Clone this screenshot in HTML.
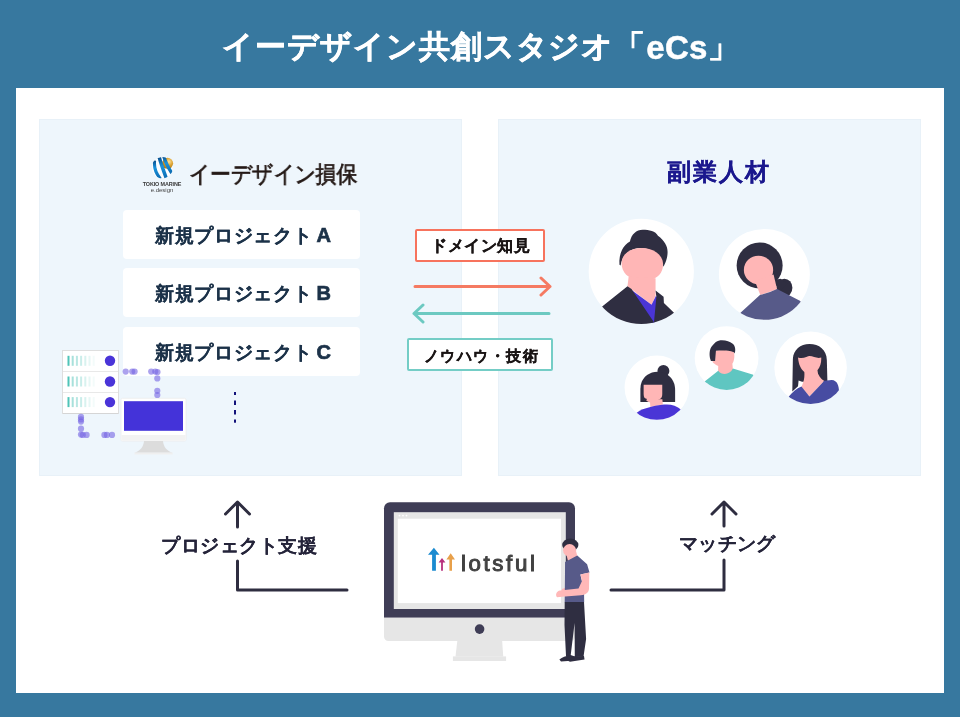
<!DOCTYPE html>
<html><head><meta charset="utf-8">
<style>
*{margin:0;padding:0;box-sizing:border-box}
html,body{width:960px;height:717px;overflow:hidden;background:#37789f;font-family:"Liberation Sans",sans-serif}
.abs{position:absolute}
.t{position:absolute;white-space:nowrap;font-weight:bold;line-height:1;will-change:transform}
#panel{position:absolute;left:16px;top:88px;width:928px;height:605px;background:#fff}
.lp{position:absolute;top:119px;width:423px;height:357px;background:#eef6fc;box-shadow:inset 0 0 0 1px #e8f1f8}
.box{position:absolute;left:123px;width:237px;height:49px;background:#fff;border-radius:4px}
.L{font-size:20px;margin-left:-1.5px;-webkit-text-stroke:0.7px #1c3249;letter-spacing:0}
.bt{font-size:18.5px;letter-spacing:0.65px;color:#1c3249;-webkit-text-stroke:0.2px #1c3249}
.lbl{position:absolute;background:#fff}
svg{position:absolute;left:0;top:0;will-change:transform}
</style></head><body>
<div class="t" id="title" style="left:221.6px;top:29px;font-size:31px;letter-spacing:0.95px;color:#fff;-webkit-text-stroke:0.5px #fff">イーデザイン共創スタジオ「<span style="font-size:33px;position:relative;top:1.5px;letter-spacing:0.2px">eCs</span>」</div>
<div id="panel"></div>
<div class="lp" style="left:39px"></div>
<div class="lp" style="left:498px;width:423px"></div>

<div class="box" style="top:209.5px"></div>
<div class="box" style="top:268px"></div>
<div class="box" style="top:327px"></div>
<div class="t bt" style="left:155px;top:224.5px">新規プロジェクト <span class="L">A</span></div>
<div class="t bt" style="left:155px;top:283px">新規プロジェクト <span class="L">B</span></div>
<div class="t bt" style="left:155px;top:342px">新規プロジェクト <span class="L">C</span></div>

<div class="t" style="left:189px;top:163px;font-size:23px;font-weight:normal;letter-spacing:-0.6px;color:#231815;-webkit-text-stroke:0.75px #231815;transform:scaleX(0.91);transform-origin:0 0">イーデザイン損保</div>

<div class="lbl" style="left:415px;top:229px;width:130px;height:33px;border:2px solid #f7735d;border-radius:2px"></div>
<div class="lbl" style="left:407px;top:338px;width:146px;height:33px;border:2px solid #74cdc6;border-radius:2px"></div>
<div class="t" style="left:430.5px;top:238px;font-size:15.5px;letter-spacing:0.6px;color:#1a1515;-webkit-text-stroke:0.35px #1a1515">ドメイン知見</div>
<div class="t" style="left:424px;top:347.5px;font-size:15px;letter-spacing:1.45px;color:#1a1515;-webkit-text-stroke:0.35px #1a1515">ノウハウ・技術</div>

<div class="t" style="left:667px;top:160px;font-size:24px;letter-spacing:2px;color:#1b188e;-webkit-text-stroke:0.15px #1b188e">副業人材</div>

<div class="t" style="left:160.5px;top:537px;font-size:18.5px;letter-spacing:0.55px;color:#25243a;-webkit-text-stroke:0.05px #25243a">プロジェクト支援</div>
<div class="t" style="left:679px;top:534.5px;font-size:18.5px;letter-spacing:0.3px;color:#25243a;-webkit-text-stroke:0.05px #25243a">マッチング</div>

<svg width="960" height="717" viewBox="0 0 960 717">

  <defs>
    <clipPath id="c1"><circle cx="351" cy="352" r="328"/></clipPath>
    <clipPath id="c2"><circle cx="354" cy="354" r="326"/></clipPath>
    <clipPath id="c3"><circle cx="352" cy="360" r="308"/></clipPath>
    <clipPath id="c4"><circle cx="350" cy="345" r="305"/></clipPath>
    <clipPath id="c5"><circle cx="355" cy="348" r="317"/></clipPath>
    <clipPath id="lc"><circle cx="162.2" cy="167.8" r="10.7"/></clipPath>
    <radialGradient id="gold" cx="0.62" cy="0.35" r="0.7"><stop offset="0" stop-color="#fde3a0"/><stop offset="0.45" stop-color="#e0a838"/><stop offset="1" stop-color="#a8720e"/></radialGradient>
    <linearGradient id="blu" x1="0" y1="0" x2="0" y2="1"><stop offset="0" stop-color="#0b4f8c"/><stop offset="0.4" stop-color="#1b93dc"/><stop offset="1" stop-color="#0c6ab0"/></linearGradient>
  </defs>
  <!-- Tokio Marine logo -->
  <g>
    <circle cx="162.2" cy="167.8" r="10.4" fill="#fff" opacity="0.85"/>
    <circle cx="167.6" cy="163.3" r="5.5" fill="url(#gold)"/>
    <g clip-path="url(#lc)" fill="none" stroke="url(#blu)" stroke-width="3.4">
      <path d="M154.6 160.5Q153.4 170.6 160.5 179" stroke-width="3.1"/>
      <path d="M159.3 157.5Q160.75 163.35 166.6 179" stroke-width="3.5"/>
      <path d="M163.9 156.3Q165.25 162.85 171.8 173.2" stroke-width="3.4"/>
    </g>
  </g>
  <text x="162" y="185.6" font-size="5.4" font-weight="bold" fill="#3a3a3a" text-anchor="middle" font-family="Liberation Sans" letter-spacing="-0.1">TOKIO MARINE</text>
  <text x="162" y="192" font-size="6" fill="#444" text-anchor="middle" font-family="Liberation Sans">e.design</text>

  <!-- server -->
  <rect x="62.5" y="350.5" width="56" height="63" fill="#fff" stroke="#dedede" stroke-width="1"/>
  <path d="M63 371.5H118M63 392.5H118" stroke="#e8e8e8" stroke-width="1"/>
  <path d="M63 413.5H118" stroke="#d5d5d5" stroke-width="1.2"/>
  <g fill="#4a34d8"><circle cx="110" cy="360.8" r="5.2"/><circle cx="110" cy="381.5" r="5.2"/><circle cx="110" cy="402.1" r="5.2"/></g>
  <g fill="#4fc4b8">
    <g id="bars">
      <rect x="67.5" y="355.8" width="2" height="10" opacity="1"/>
      <rect x="71.7" y="355.8" width="2" height="10" opacity="0.5"/>
      <rect x="75.9" y="355.8" width="2" height="10" opacity="0.4"/>
      <rect x="80.1" y="355.8" width="2" height="10" opacity="0.3"/>
      <rect x="84.3" y="355.8" width="2" height="10" opacity="0.22"/>
      <rect x="88.5" y="355.8" width="2" height="10" opacity="0.14"/>
      <rect x="92.7" y="355.8" width="2" height="10" opacity="0.07"/>
    </g>
    <use href="#bars" y="20.7"/>
    <use href="#bars" y="41.3"/>
  </g>
  <!-- small monitor -->
  <rect x="121" y="398.3" width="65" height="42.7" rx="1.5" fill="#fff" stroke="#ececec" stroke-width="0.8"/>
  <rect x="124" y="401.2" width="59" height="29.6" fill="#4433d9"/>
  <rect x="121.4" y="435" width="64.2" height="5.6" fill="#f2f2f2"/>
  <path d="M144 441H163C163.5 447 167 451 172.6 452.8H134.5C140 451 143.5 447 144 441Z" fill="#dcdcdc"/>
  <rect x="134.5" y="452.5" width="38.1" height="2" fill="#efefef"/>
  <!-- dotted connectors -->
  <g fill="#7564e2" fill-opacity="0.6"><circle cx="125.7" cy="371.6" r="3.1"/><circle cx="132.2" cy="371.6" r="3.1"/><circle cx="134.6" cy="371.6" r="3.1"/><circle cx="151.2" cy="371.6" r="3.1"/><circle cx="155.3" cy="371.6" r="3.1"/><circle cx="157.5" cy="372" r="3.1"/><circle cx="157.3" cy="378.4" r="3.1"/><circle cx="157.3" cy="390.8" r="3.1"/><circle cx="157.3" cy="395" r="3.1"/><circle cx="81" cy="416.9" r="3.1"/><circle cx="81" cy="419.4" r="3.1"/><circle cx="81" cy="421.6" r="3.1"/><circle cx="81" cy="428.7" r="3.1"/><circle cx="81" cy="434.6" r="3.1"/><circle cx="82.8" cy="434.9" r="3.1"/><circle cx="86.6" cy="434.9" r="3.1"/><circle cx="104.4" cy="434.9" r="3.1"/><circle cx="106.9" cy="434.9" r="3.1"/><circle cx="112" cy="434.9" r="3.1"/></g>
  <!-- dashed line under boxes -->
  <g fill="#13127a"><rect x="234" y="392" width="2" height="3"/><rect x="234" y="400.5" width="2" height="4.5"/><rect x="234" y="410" width="2" height="4.5"/><rect x="234" y="419.5" width="2" height="3.2"/></g>

  <!-- person 1 -->
  <g transform="translate(585 215) scale(0.16038)">
    <circle cx="351" cy="352" r="328" fill="#fff"/>
    <g clip-path="url(#c1)">
      <path d="M215,310 C210,240 240,185 280,165 C290,120 320,92 360,92 C400,92 440,100 455,130 C495,160 515,195 515,230 C515,270 500,300 490,322 C470,250 420,208 350,205 C280,205 230,250 222,315 Z" fill="#2f2e41"/>
      <path d="M228,300 C228,240 285,205 355,205 C425,205 485,245 487,305 C488,360 450,400 400,402 L330,402 C270,400 228,360 228,300 Z" fill="#ffb6b6"/>
      <path d="M272,385 L265,445 L415,560 L440,505 L440,395 Z" fill="#ffb6b6"/>
      
      <path d="M282,462 L415,560 L442,505 L452,515 L436,690 L426,690 Z" fill="#4a35d6"/>
      <path d="M105,572 L265,445 L290,462 L430,668 L445,512 L440,470 L490,510 L492,548 L555,610 L555,720 L105,720 Z" fill="#2f2e41"/>
    </g>
  </g>
  <!-- person 2 -->
  <g transform="translate(715 225) scale(0.13947)">
    <circle cx="354" cy="354" r="326" fill="#fff"/>
    <g clip-path="url(#c2)">
      <circle cx="320" cy="290" r="165" fill="#2f2e41"/>
      <ellipse cx="497" cy="450" rx="58" ry="65" fill="#2f2e41"/><path d="M400,400 L470,385 L520,420 L470,470 Z" fill="#2f2e41"/>
      <ellipse cx="312" cy="322" rx="105" ry="102" fill="#ffb6b6"/>
      <path d="M285,400 L325,502 L445,460 L420,355 Z" fill="#ffb6b6"/>
      <path d="M185,628 L322,502 Q390,485 445,458 L612,545 L700,720 L100,720 Z" fill="#575a89"/>
    </g>
  </g>
  <!-- person 3 -->
  <g transform="translate(620 350) scale(0.1046)">
    <circle cx="352" cy="360" r="308" fill="#fff"/>
    <g clip-path="url(#c3)">
      <circle cx="415" cy="200" r="57" fill="#2f2e41"/>
      <path d="M195,497 L195,370 C195,270 270,207 360,207 C455,207 527,280 527,380 L527,497 Z" fill="#2f2e41"/>
      <path d="M226,332 L404,332 L404,420 C404,475 365,505 315,505 C265,505 226,475 226,420 Z" fill="#ffb6b6"/>
      <path d="M226,450 L226,497 L242,497 L258,468 C243,465 232,460 226,450 Z M404,450 L404,497 L375,497 L362,478 C385,470 398,462 404,450 Z" fill="#2f2e41"/>
      <path d="M285,470 L290,545 L410,522 L405,470 Z" fill="#ffb6b6"/>
      <path d="M160,600 C230,550 330,535 420,522 C480,515 540,530 585,572 L700,720 L100,720 Z" fill="#4a35d6"/>
    </g>
  </g>
  <!-- person 4 -->
  <g transform="translate(690 322) scale(0.1046)">
    <circle cx="350" cy="345" r="305" fill="#fff"/>
    <g clip-path="url(#c4)">
      <path d="M240,275 C320,262 400,268 420,290 C430,330 420,380 405,400 L412,470 C380,530 320,530 268,480 L270,420 C245,410 210,385 215,375 L240,370 Z" fill="#ffb6b6"/>
      <path d="M200,372 C182,330 180,260 215,225 C235,200 255,180 290,175 C340,170 380,190 405,205 C432,225 438,260 428,300 L422,292 C400,275 330,268 248,275 L240,372 Z" fill="#2f2e41"/>
      <path d="M140,570 L270,465 C300,510 380,510 410,445 L605,505 L700,720 L100,720 Z" fill="#5fc6c1"/>
    </g>
  </g>
  <!-- person 5 -->
  <g transform="translate(770 328) scale(0.11437)">
    <circle cx="355" cy="348" r="317" fill="#fff"/>
    <g clip-path="url(#c5)">
      <path d="M195,555 L200,270 C205,190 265,140 345,140 C430,140 495,190 497,280 L502,470 L280,470 L250,460 L245,510 Z" fill="#2f2e41"/>
      <path d="M245,258 C290,275 330,245 345,245 C380,245 410,270 448,258 C450,300 440,340 415,370 L420,400 C440,440 460,455 475,462 L345,598 L275,515 C290,480 305,440 300,385 C270,360 250,320 245,258 Z" fill="#ffb6b6"/>
      <path d="M165,600 C200,560 230,530 275,512 L345,598 L475,462 L540,455 C580,458 600,490 603,545 L700,720 L100,720 Z" fill="#474ca2"/>
    </g>
  </g>

  <!-- big monitor -->
  <path d="M384 508.3A6 6 0 0 1 390 502.3H569A6 6 0 0 1 575 508.3V617.7H384Z" fill="#3f3d56"/>
  <path d="M384 617.7H575V636.6A4.4 4.4 0 0 1 570.6 641H388.4A4.4 4.4 0 0 1 384 636.6Z" fill="#e6e6e6"/>
  <rect x="393.8" y="512.2" width="172" height="96.8" fill="#e6e6e6"/>
  <rect x="397.8" y="518.7" width="163.2" height="84.4" fill="#fff"/>
  <g fill="#fff"><circle cx="399.5" cy="515.6" r="0.9"/><circle cx="403" cy="515.6" r="0.9"/><circle cx="406.5" cy="515.6" r="0.9"/></g>
  <circle cx="479.6" cy="629.1" r="4.8" fill="#3f3d56"/>
  <path d="M457.3 641H502.2L503.2 656.4H455.5Z" fill="#e6e6e6"/>
  <rect x="452.9" y="656.4" width="53.2" height="4.6" fill="#e6e6e6"/>
  <!-- lotsful logo -->
  <path d="M432.1 554.8H428L433.9 547.7L439.5 554.8H435.9V570.8H432.1Z" fill="#1b8bd0"/>
  <path d="M441.1 562.5H438.6L442 558L445.4 562.5H442.9V570.8H441.1Z" fill="#b8307e"/>
  <path d="M449.4 559.6H446.4L450.7 553.3L455 559.6H452V570.8H449.4Z" fill="#e8a04a"/>
  <text x="461" y="571.3" font-size="22.3" font-family="Liberation Sans" fill="#424242" stroke="#424242" stroke-width="1" letter-spacing="2.6">lotsful</text>

  <!-- person at monitor -->
  <g>
    <ellipse cx="570.3" cy="545" rx="8.1" ry="6.4" fill="#2f2e41"/>
    <ellipse cx="569.6" cy="550.3" rx="6.5" ry="6.2" fill="#ffb8b8"/>
    <path d="M566,553 L568,561 L577.5,557 L576,551 Z" fill="#ffb8b8"/>
    <path d="M562,589 L566,587.5 L566,592 L561.5,592 Z" fill="#ffb8b8"/>
    <path d="M565.1,562 L577.3,555.5 L587.1,564.3 L589.5,572.5 L580.3,574.5 L584,590 L584.2,602.3 L564.7,602.3 Z" fill="#575a89"/>
    <path d="M580.5,574.5 L589.3,572.5 L589,589 C588.5,593 585,595 581,595.2 L562,596.8 L557,597.2 C555,595 556.5,591 560,590.6 L578.5,588.6 L582,581 Z" fill="#ffb8b8"/>
    <path d="M564.7,602 L584,602 L586.1,639 L583.5,656.7 L574.8,657 L574.6,623 L570.6,656 L566,656 L564.5,625 Z" fill="#2f2e41"/>
    <path d="M559.4,659.5 C562,657.5 566,655.5 570.5,655 L575,656.5 L574.5,660.5 L561,661.5 Z" fill="#2f2e41"/>
    <path d="M567.8,660.8 L574,656.5 L584,656 L584.5,659.5 L570,661.8 Z" fill="#2f2e41"/>
  </g>
  <!-- middle arrows -->
  <g fill="none" stroke-linecap="round" stroke-linejoin="round" stroke-width="3">
    <path d="M415 286.5H550M541 278L550 286.5L541 295" stroke="#f57a62"/>
    <path d="M549 313.5H414M423 305L414 313.5L423 322" stroke="#6cc9c1"/>
  </g>
  <!-- bottom arrows -->
  <g fill="none" stroke="#2e2d40" stroke-width="3" stroke-linecap="round" stroke-linejoin="round">
    <path d="M237.5 527V502M225.5 514L237.5 502L249.5 514"/>
    <path d="M237.5 561V590H347"/>
    <path d="M724 526V502M712 514L724 502L736 514"/>
    <path d="M724 560V590H611"/>
  </g>
</svg>
</body></html>
